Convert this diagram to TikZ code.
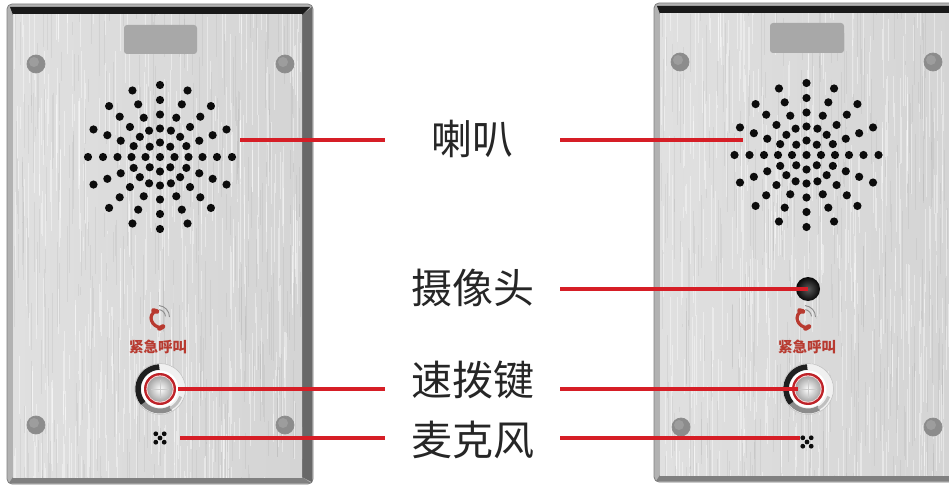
\documentclass[tikz,border=0pt]{standalone}
\usepackage{fontspec}
\newfontfamily\cjk{Noto Sans CJK SC}
\usetikzlibrary{calc}

\definecolor{callout}{RGB}{214,30,38}
\definecolor{rimlight}{RGB}{178,178,178}
\definecolor{rimmid}{RGB}{128,128,128}
\definecolor{rimdark}{RGB}{104,104,104}
\definecolor{facelight}{RGB}{224,224,224}
\definecolor{facedark}{RGB}{212,212,212}
\definecolor{screw}{RGB}{140,140,140}
\definecolor{windowgray}{RGB}{168,168,168}
\definecolor{hole}{RGB}{12,12,12}
\definecolor{signred}{RGB}{184,58,48}
\definecolor{btnred}{RGB}{190,34,40}

\tikzset{
  calloutline/.style={draw=callout, line width=3.4pt},
  lbl/.style={font=\cjk\fontsize{41}{44}\selectfont, text=black!85,
              minimum width=175, inner sep=0pt},
  signtext/.style={font=\cjk\bfseries\fontsize{14.5}{16}\selectfont, text=signred, inner sep=0pt},
  screwhead/.style={fill=screw, draw=black!45, line width=0.7pt},
}

% brushed-steel face: left/top/right/bottom of the face area
\newcommand\steelface[4]{%
  \shade[left color=facelight, right color=facedark] (#1,#2) rectangle (#3,#4);
  \begin{scope}
    \clip (#1,#2) rectangle (#3,#4);
    \foreach \k in {1,...,420}{
      \pgfmathsetmacro\bx{#1+rnd*(#3-#1)}
      \pgfmathsetmacro\by{#2-40+rnd*(#4-#2+40)}
      \pgfmathsetmacro\bl{20+rnd*70}
      \draw[white, opacity=0.4, line width=0.7pt] (\bx,\by) -- ++(0,\bl);
    }
    \foreach \k in {1,...,320}{
      \pgfmathsetmacro\bx{#1+rnd*(#3-#1)}
      \pgfmathsetmacro\by{#2-40+rnd*(#4-#2+40)}
      \pgfmathsetmacro\bl{20+rnd*70}
      \draw[black!45, opacity=0.13, line width=0.6pt] (\bx,\by) -- ++(0,\bl);
    }
  \end{scope}}

% stainless front plate with bevelled rim: outer left/top/right/bottom
\newcommand\frontplate[4]{%
  \fill[rimlight, draw=rimmid, line width=0.8pt, rounded corners=5pt] (#1,#2) rectangle (#3,#4);
  \fill[rimdark] (#3-11,#2+11) -- (#3-1,#2+3) -- (#3-1,#4-2) -- (#3-11,#4-7) -- cycle;
  \fill[rimmid] (#1+6,#4-7) -- (#3-11,#4-7) -- (#3-2,#4-1) -- (#1+2,#4-1) -- cycle;
  \fill[black!90] (#1+3,#2+3) -- (#3-3,#2+3) -- (#3-11,#2+11) -- (#1+6,#2+11) -- cycle;
  \steelface{#1+6}{#2+11}{#3-11}{#4-7}}

% loudspeaker grille: centre dot, ring of 8, four rings of 16
\newcommand\grille[2]{%
  \fill[hole] (#1,#2) circle (4.1);
  \foreach \a in {0,45,...,315}
    \fill[hole] ($(#1,#2)+(\a:14.5)$) circle (4.1);
  \foreach \r in {28.5,42.5,57,72}{
    \foreach \a in {0,22.5,...,337.5}
      \fill[hole] ($(#1,#2)+(\a:\r)$) circle (4.1);
  }}

% fixing screw
\newcommand\screwat[2]{%
  \fill[screwhead] (#1,#2) circle (9);
  \fill[white, opacity=0.15] (#1-2,#2-2) circle (5);}

% emergency-call handset icon with signal waves
\newcommand\handset[2]{%
  \draw[signred, line width=3.2pt, line cap=round]
    (#1+1,#2-9) .. controls (#1-8,#2-5) and (#1-4,#2+7) .. (#1+7,#2+8);
  \draw[signred, line width=4.6pt, line cap=round] (#1-1.5,#2-9.5) -- (#1+2,#2-8.5);
  \draw[signred, line width=4.6pt, line cap=round] (#1+4.5,#2+8.5) -- (#1+8,#2+6.5);
  \draw[black!45, line width=0.9pt] ($(#1+3,#2-3)+(-80:7.5)$) arc[start angle=-80, end angle=-5, radius=7.5];
  \draw[black!45, line width=0.9pt] ($(#1+3,#2-3)+(-85:11.5)$) arc[start angle=-85, end angle=0, radius=11.5];}

% illuminated push button
\newcommand\pushbutton[2]{%
  \fill[black!6] (#1,#2) circle (25.5);
  \draw[black!25, line width=0.5pt] (#1,#2) circle (25.5);
  \draw[black!45, line width=5pt] ($(#1,#2)+(60:22)$) arc[start angle=60, end angle=150, radius=22];
  \draw[black!88, line width=5.5pt] ($(#1,#2)+(140:22)$) arc[start angle=140, end angle=268, radius=22];
  \draw[black!25, line width=3pt] ($(#1,#2)+(20:22)$) arc[start angle=20, end angle=62, radius=22];
  \fill[white] (#1,#2) circle (18.5);
  \fill[btnred] (#1,#2) circle (16);
  \fill[white!85!red] (#1,#2) circle (13.6);
  \shade[inner color=white, outer color=black!35] (#1,#2) circle (12.8);
  \draw[black!20, line width=0.4pt] (#1-9,#2) -- (#1+9,#2) (#1,#2-9) -- (#1,#2+9);}

% microphone aperture: five small holes
\newcommand\micholes[2]{%
  \foreach \dx/\dy in {-4.2/-4.2,4.2/-4.2,0/0,-4.2/4.2,4.2/4.2}
    \fill[hole] (#1+\dx,#2+\dy) circle (2.4);}

\begin{document}
\begin{tikzpicture}[x=1pt,y=-1pt]
\useasboundingbox (0,0) rectangle (949,486);
\clip (0,0) rectangle (949,486);
\fill[white] (0,0) rectangle (949,486);
\pgfmathsetseed{4711}

% ---------------- left unit (no camera)
\frontplate{7}{4}{313}{484}
\fill[windowgray, rounded corners=3pt] (124,25) rectangle (197,54);
\screwat{36}{64}\screwat{285}{64}\screwat{36}{425}\screwat{285}{425}
\grille{160}{157}
\handset{155}{320}
\node[signtext] (signL) at (158,347) {紧急呼叫};
\pushbutton{160}{389}
\micholes{160}{438}

% ---------------- right unit (with camera)
\frontplate{654}{3}{968}{482}
\fill[windowgray, rounded corners=3pt] (770,23) rectangle (844,53);
\screwat{680}{62}\screwat{933}{62}\screwat{681}{427}\screwat{933}{427}
\grille{806.5}{155}
\node[circle, minimum size=24pt, inner sep=0pt, inner color=black!65, outer color=black!97] (cam) at (808,289) {};
\handset{801}{320}
\node[signtext] (signR) at (807,347) {紧急呼叫};
\pushbutton{808}{389}
\micholes{807}{442}

% ---------------- callout anchors
\coordinate (spkL) at (240,140);
\coordinate (spkR) at (743,140);
\coordinate (keyL) at (178,389);
\coordinate (keyR) at (798,389);
\coordinate (micL) at (180,438);
\coordinate (micR) at (800,438);

% ---------------- labels
\node[lbl] (tSpk) at (472.5,139) {喇叭};
\node[lbl] (tCam) at (472.5,288) {摄像头};
\node[lbl] (tKey) at (472.5,380) {速拨键};
\node[lbl] (tMic) at (472.5,440) {麦克风};

% ---------------- callout lines
\draw[calloutline] (spkL) -- (tSpk.west |- spkL);
\draw[calloutline] (tSpk.east |- spkR) -- (spkR);
\draw[calloutline] (tCam.east |- cam) -- (cam.center);
\draw[calloutline] (keyL) -- (tKey.west |- keyL);
\draw[calloutline] (tKey.east |- keyR) -- (keyR);
\draw[calloutline] (micL) -- (tMic.west |- micL);
\draw[calloutline] (tMic.east |- micR) -- (micR);
\end{tikzpicture}
\end{document}
